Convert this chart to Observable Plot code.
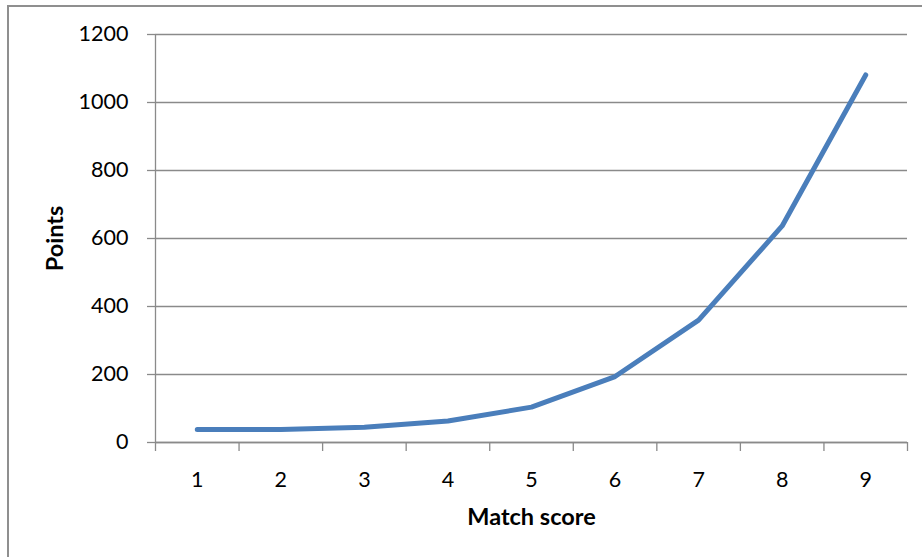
<!DOCTYPE html>
<html>
<head>
<meta charset="utf-8">
<script src="https://cdn.jsdelivr.net/npm/d3@7"></script>
<script src="https://cdn.jsdelivr.net/npm/@observablehq/plot@0.6"></script>
<style>
  html, body { margin: 0; padding: 0; background: #fff; overflow: hidden; }
  #wrap { position: relative; width: 922px; height: 557px; overflow: hidden; }
  #border { position: absolute; left: 7px; top: 5px; width: 1200px; height: 1200px;
            border-left: 2px solid #8f8f8f; border-top: 2px solid #8f8f8f; box-sizing: border-box; }
  #chart { position: absolute; left: 0; top: 0; }
</style>
</head>
<body>
<div id="wrap"><div id="border"></div><div id="chart"></div></div>
<script>
const matchScores = [1, 2, 3, 4, 5, 6, 7, 8, 9];
const points = [38, 38, 45, 63, 104, 194, 360, 637, 1081];
const yTicks = [0, 200, 400, 600, 800, 1000, 1200];
const xLabel = "Match score";
const yLabel = "Points";

const data = matchScores.map((m, i) => ({score: m, points: points[i]}));
const boundaries = [...matchScores.map(m => m - 0.5), matchScores[matchScores.length - 1] + 0.5];
const gray = "#8a8a8a";

const chart = Plot.plot({
  width: 922,
  height: 557,
  marginLeft: 155,
  marginRight: 15,
  marginTop: 34,
  marginBottom: 115,
  style: {fontFamily: "Lato, 'Open Sans', sans-serif", fontSize: "21.5px", color: "#000", background: "transparent", overflow: "visible"},
  x: {type: "linear", domain: [0.5, 9.5]},
  y: {domain: [0, 1200]},
  marks: [
    Plot.gridY(yTicks, {stroke: gray, strokeOpacity: 1, strokeWidth: 1.3}),
    Plot.axisY(yTicks, {tickSize: 8, tickPadding: 19, stroke: gray, strokeWidth: 1.3, label: null, tickFormat: d => String(d), fill: "#000"}),
    Plot.ruleX([0.5], {stroke: gray, strokeWidth: 1.3}),
    Plot.ruleY([0], {stroke: gray, strokeWidth: 1.3}),
    Plot.axisX(boundaries, {tickSize: 9, stroke: gray, strokeWidth: 1.3, tickFormat: () => "", label: null}),
    Plot.axisX(matchScores, {tickSize: 0, tickPadding: 29, label: null, tickFormat: d => String(d), fill: "#000"}),
    Plot.line(data, {x: "score", y: "points", stroke: "#4a7ebb", strokeWidth: 5, strokeLinecap: "round", strokeLinejoin: "round"}),
    Plot.text([yLabel], {frameAnchor: "left", textAnchor: "middle", dx: -100, rotate: -90, fontWeight: "bold", fontSize: 23.5, fill: "#000"}),
    Plot.text([xLabel], {frameAnchor: "bottom", textAnchor: "middle", dy: 82, fontWeight: "bold", fontSize: 23.5, fill: "#000"})
  ]
});
document.getElementById("chart").appendChild(chart);
</script>
</body>
</html>
